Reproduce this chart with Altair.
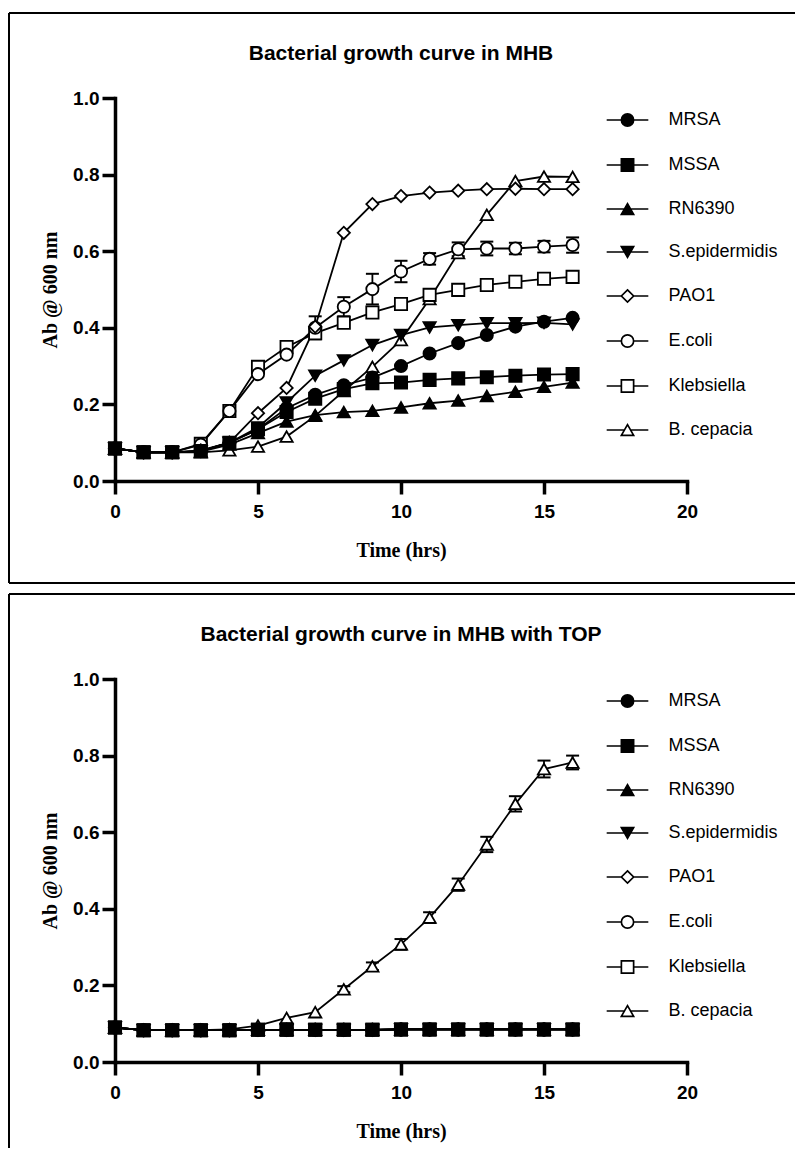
import altair as alt
import pandas as pd

hours = [0, 1, 2, 3, 4, 5, 6, 7, 8, 9, 10, 11, 12, 13, 14, 15, 16]
series_names = ["MRSA", "MSSA", "RN6390", "S.epidermidis", "PAO1", "E.coli", "Klebsiella", "B. cepacia"]
marker_shapes = ["circle", "square", "triangle-up", "triangle-down", "diamond", "circle", "square", "triangle-up"]
marker_fills = ["black", "black", "black", "black", "white", "white", "white", "white"]

# legend glyphs: the marker with a short line through it
CIRC = "M-3.4,0H-1M1,0H3.4M1,0A1,1,0,1,1,-1,0A1,1,0,1,1,1,0Z"
SQR = "M-3.4,0H-1M1,0H3.4M-1,-1H1V1H-1Z"
TUP = "M-3.4,0H-0.5M0.5,0H3.4M0,-0.866L1,0.866H-1Z"
TDN = "M-3.4,0H-0.5M0.5,0H3.4M0,0.866L1,-0.866H-1Z"
DIA = "M-3.4,0H-1M1,0H3.4M0,-1L1,0L0,1L-1,0Z"
legend_glyphs = [CIRC, SQR, TUP, TDN, DIA, CIRC, SQR, TUP]

x_ticks = [0, 5, 10, 15, 20]
y_ticks = [0.0, 0.2, 0.4, 0.6, 0.8, 1.0]

# --- MHB ---
mhb_mrsa = [0.085, 0.075, 0.075, 0.078, 0.100, 0.135, 0.190, 0.225, 0.250, 0.270, 0.300, 0.333, 0.360, 0.381, 0.403, 0.416, 0.426]
mhb_mssa = [0.085, 0.075, 0.075, 0.078, 0.100, 0.135, 0.180, 0.215, 0.240, 0.255, 0.257, 0.264, 0.268, 0.271, 0.275, 0.278, 0.279]
mhb_rn6390 = [0.085, 0.075, 0.075, 0.077, 0.095, 0.125, 0.155, 0.172, 0.180, 0.183, 0.192, 0.203, 0.210, 0.222, 0.233, 0.246, 0.257]
mhb_sepi = [0.085, 0.075, 0.075, 0.078, 0.100, 0.140, 0.205, 0.275, 0.315, 0.355, 0.381, 0.401, 0.407, 0.412, 0.412, 0.413, 0.409]
mhb_pao1 = [0.085, 0.075, 0.075, 0.080, 0.100, 0.177, 0.243, 0.403, 0.648, 0.723, 0.744, 0.753, 0.758, 0.762, 0.763, 0.762, 0.762]
mhb_ecoli = [0.085, 0.075, 0.075, 0.095, 0.183, 0.279, 0.330, 0.400, 0.455, 0.501, 0.547, 0.580, 0.605, 0.607, 0.607, 0.612, 0.616]
mhb_kleb = [0.085, 0.075, 0.075, 0.097, 0.183, 0.298, 0.350, 0.386, 0.413, 0.440, 0.462, 0.486, 0.499, 0.512, 0.520, 0.528, 0.533]
mhb_bcep = [0.085, 0.075, 0.075, 0.075, 0.080, 0.090, 0.116, 0.170, 0.235, 0.298, 0.368, 0.475, 0.595, 0.695, 0.783, 0.795, 0.794]
mhb_ecoli_err = [0, 0, 0, 0, 0, 0, 0, 0.030, 0.025, 0.040, 0.028, 0.015, 0.018, 0.018, 0.015, 0.015, 0.020]

# --- MHB with TOP ---
top_mrsa = [0.090, 0.083, 0.083, 0.083, 0.083, 0.084, 0.084, 0.084, 0.084, 0.084, 0.085, 0.085, 0.085, 0.085, 0.085, 0.085, 0.085]
top_mssa = [0.090, 0.083, 0.083, 0.083, 0.083, 0.084, 0.084, 0.084, 0.084, 0.084, 0.085, 0.085, 0.085, 0.085, 0.085, 0.085, 0.085]
top_rn6390 = [0.090, 0.083, 0.083, 0.083, 0.083, 0.084, 0.084, 0.084, 0.084, 0.084, 0.085, 0.085, 0.085, 0.085, 0.085, 0.085, 0.085]
top_sepi = [0.090, 0.083, 0.083, 0.083, 0.083, 0.084, 0.084, 0.084, 0.084, 0.084, 0.085, 0.085, 0.085, 0.085, 0.085, 0.085, 0.085]
top_pao1 = [0.090, 0.083, 0.083, 0.083, 0.083, 0.084, 0.084, 0.084, 0.084, 0.084, 0.085, 0.085, 0.085, 0.085, 0.085, 0.085, 0.085]
top_ecoli = [0.090, 0.083, 0.083, 0.083, 0.083, 0.084, 0.084, 0.084, 0.084, 0.084, 0.085, 0.085, 0.085, 0.085, 0.085, 0.085, 0.085]
top_kleb = [0.090, 0.083, 0.083, 0.083, 0.083, 0.084, 0.084, 0.084, 0.084, 0.084, 0.085, 0.085, 0.085, 0.085, 0.085, 0.085, 0.085]
top_bcep = [0.090, 0.083, 0.083, 0.083, 0.085, 0.095, 0.115, 0.130, 0.190, 0.250, 0.307, 0.377, 0.463, 0.568, 0.674, 0.765, 0.782]
top_bcep_err = [0, 0, 0, 0, 0, 0, 0, 0, 0.008, 0.010, 0.014, 0.014, 0.016, 0.020, 0.020, 0.022, 0.018]

W, H = 572, 383
SANS = "Liberation Sans"
SERIF = "Liberation Serif"


def long_frame(cols):
    rows = []
    for name, vals in zip(series_names, cols):
        for h, v in zip(hours, vals):
            rows.append({"hour": h, "od": v, "series": name})
    return pd.DataFrame(rows)


def err_frame(vals, errs):
    rows = []
    for h, v, e in zip(hours, vals, errs):
        if e > 0:
            rows.append({"hour": h, "lo": v - e, "hi": v + e})
    return pd.DataFrame(rows)


LEG = dict(orient="none", legendX=503.5, legendY=13, title=None,
           symbolSize=150, rowPadding=25, labelFont=SANS, labelFontSize=18,
           labelOffset=32, labelColor="black", symbolStrokeWidth=1.7)


def panel(title, cols, err_vals, err_errs, bottom_edge):
    df = long_frame(cols)
    ef = err_frame(err_vals, err_errs)
    xs = alt.Scale(domain=[0, 20], nice=False)
    ys = alt.Scale(domain=[0, 1], nice=False)
    xax = alt.Axis(values=x_ticks, format="d", title="Time (hrs)", labelFlush=False,
                   labelPadding=8, titlePadding=19)
    yax = alt.Axis(values=y_ticks, format=".1f", title="Ab @ 600 nm",
                   labelPadding=3, titlePadding=12)

    base = alt.Chart(df)
    lines = base.mark_line(strokeWidth=1.8, color="black").encode(
        x=alt.X("hour:Q", scale=xs, axis=xax),
        y=alt.Y("od:Q", scale=ys, axis=yax),
        detail="series:N",
        order="hour:Q",
    )
    ebase = alt.Chart(ef)
    erule = ebase.mark_rule(color="black", strokeWidth=1.8, opacity=1).encode(
        x="hour:Q", y="lo:Q", y2="hi:Q")
    ecap_hi = ebase.mark_tick(color="black", orient="horizontal", size=13, thickness=2, opacity=1).encode(
        x="hour:Q", y="hi:Q")
    ecap_lo = ebase.mark_tick(color="black", orient="horizontal", size=13, thickness=2, opacity=1).encode(
        x="hour:Q", y="lo:Q")

    # markers: drawn last series first so that the filled symbols end up on top
    point_layers = []
    for name, shp, fc in reversed(list(zip(series_names, marker_shapes, marker_fills))):
        point_layers.append(
            base.transform_filter(alt.datum.series == name).mark_point(
                shape=shp, filled=True, fill=fc, size=150, stroke="black",
                strokeWidth=1.8, opacity=1).encode(x="hour:Q", y="od:Q"))

    # legend-only layer (no marks drawn): glyphs with line segments
    legend_layer = base.transform_filter("false").mark_point(
        filled=False, size=150, color="black", stroke="black", strokeWidth=1.7, opacity=1).encode(
        x="hour:Q", y="od:Q",
        shape=alt.Shape("series:N", scale=alt.Scale(domain=series_names, range=legend_glyphs),
                        legend=alt.Legend(**LEG)),
        fill=alt.Fill("series:N", scale=alt.Scale(domain=series_names, range=marker_fills),
                      legend=alt.Legend(**LEG)),
    )

    one = alt.Chart(pd.DataFrame({"k": [0]}))
    frame = [
        one.mark_rule(color="black", strokeWidth=2).encode(
            x=alt.value(-106), x2=alt.value(680), y=alt.value(-85)),
        one.mark_rule(color="black", strokeWidth=2).encode(
            x=alt.value(-106), y=alt.value(-85), y2=alt.value(bottom_edge)),
    ]
    if bottom_edge == 485:
        frame.append(one.mark_rule(color="black", strokeWidth=2).encode(
            x=alt.value(-106), x2=alt.value(680), y=alt.value(485)))

    return alt.layer(*frame, lines, erule, ecap_hi, ecap_lo, *point_layers, legend_layer).properties(
        width=W, height=H,
        title=alt.TitleParams(title, font=SANS, fontSize=21, fontWeight="bold", color="black",
                              anchor="middle", frame="group", offset=-52),
    )


top_chart = panel("Bacterial growth curve in MHB",
                  [mhb_mrsa, mhb_mssa, mhb_rn6390, mhb_sepi, mhb_pao1, mhb_ecoli, mhb_kleb, mhb_bcep],
                  mhb_ecoli, mhb_ecoli_err, 485)
bottom_chart = panel("Bacterial growth curve in MHB with TOP",
                     [top_mrsa, top_mssa, top_rn6390, top_sepi, top_pao1, top_ecoli, top_kleb, top_bcep],
                     top_bcep, top_bcep_err, 469)

chart = alt.vconcat(top_chart, bottom_chart, spacing=9).resolve_scale(
    shape="independent", fill="independent"
).properties(
    padding={"left": 0, "top": 4, "right": 0, "bottom": 0}
).configure_view(stroke=None).configure_axis(
    domainColor="black", domainWidth=3.5, tickColor="black", tickWidth=3.5, tickSize=13,
    labelFont=SANS, labelFontWeight="bold", labelFontSize=19, labelColor="black",
    titleFont=SERIF, titleFontWeight="bold", titleFontSize=20, titleColor="black",
    grid=False, domainCap="square",
)

chart.save("out.html", embed_options={"renderer": "svg", "actions": False})
